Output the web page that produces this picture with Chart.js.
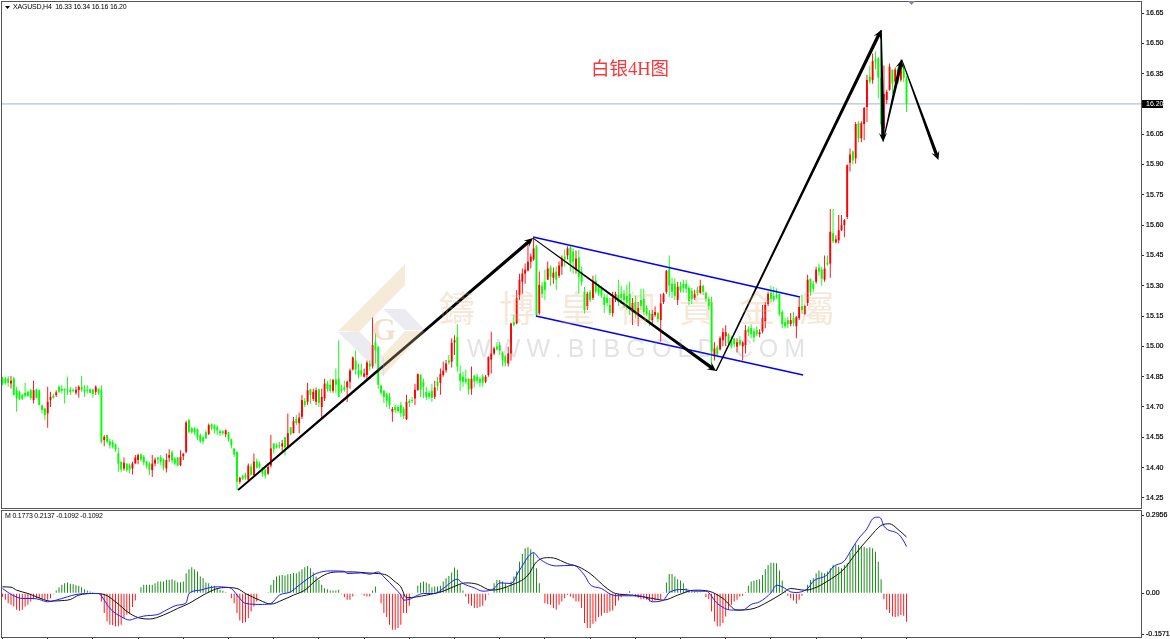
<!DOCTYPE html>
<html>
<head>
<meta charset="utf-8">
<title>XAGUSD H4</title>
<script src="https://cdn.jsdelivr.net/npm/chart.js@4"></script>
<style>
    html, body { margin: 0; padding: 0; background: #fff; overflow: hidden; }
    canvas { position: absolute; left: 0; display: block; }
    #priceChart { top: 0; }
    #macdChart { top: 509px; }
</style>
</head>
<body>
<canvas id="priceChart" width="1170" height="509"></canvas>
<canvas id="macdChart" width="1170" height="130"></canvas>
<script>
// H4 candles, one entry per bar
const opens = [
    14.841,14.84,14.84,14.816,14.841,14.783,14.775,14.76,14.77,14.775,
    14.783,14.734,14.787,14.783,14.709,14.693,14.668,14.734,14.755,14.759,
    14.80,14.79,14.79,14.787,14.785,14.785,14.77,14.783,14.80,14.787,
    14.785,14.787,14.787,14.775,14.79,14.783,14.536,14.561,14.53,14.525,
    14.515,14.47,14.429,14.396,14.42,14.412,14.396,14.42,14.437,14.465,
    14.455,14.43,14.42,14.387,14.42,14.45,14.45,14.44,14.396,14.448,
    14.475,14.445,14.45,14.412,14.457,14.478,14.635,14.595,14.595,14.59,
    14.56,14.55,14.575,14.566,14.615,14.61,14.60,14.58,14.58,14.565,
    14.575,14.54,14.495,14.478,14.33,14.36,14.365,14.34,14.405,14.363,
    14.43,14.42,14.40,14.39,14.37,14.41,14.52,14.51,14.51,14.505,
    14.55,14.50,14.60,14.57,14.64,14.62,14.652,14.73,14.726,14.787,
    14.74,14.726,14.787,14.70,14.742,14.816,14.81,14.78,14.836,14.84,
    14.79,14.80,14.797,14.825,14.886,14.93,14.88,14.88,14.85,14.858,
    14.915,14.902,15.02,14.998,14.805,14.78,14.765,14.75,14.677,14.70,
    14.70,14.71,14.69,14.64,14.73,14.735,14.742,14.784,14.86,14.825,
    14.775,14.77,14.78,14.75,14.825,14.82,14.858,14.882,14.93,14.924,
    15.02,15.047,14.865,14.85,14.84,14.84,14.79,14.855,14.85,14.84,
    14.85,14.825,14.858,14.935,14.965,15.00,15.005,14.97,14.95,14.915,
    14.965,15.12,15.114,15.254,15.32,15.36,15.375,15.419,15.43,15.497,
    15.164,15.30,15.32,15.33,15.39,15.34,15.37,15.35,15.395,15.445,
    15.45,15.49,15.47,15.38,15.44,15.37,15.27,15.20,15.27,15.24,
    15.325,15.30,15.29,15.245,15.24,15.205,15.165,15.24,15.255,15.26,
    15.26,15.25,15.26,15.17,15.22,15.155,15.23,15.235,15.19,15.165,
    15.13,15.155,15.165,15.13,15.22,15.27,15.385,15.31,15.31,15.23,
    15.30,15.31,15.31,15.29,15.275,15.24,15.28,15.265,15.30,15.265,
    15.235,15.22,14.95,14.995,14.985,15.03,15.05,15.06,15.02,15.04,
    14.998,15.03,15.0,15.007,15.085,15.09,15.075,15.08,15.06,15.075,
    15.125,15.21,15.265,15.25,15.255,15.26,15.17,15.12,15.13,15.11,
    15.14,15.10,15.14,15.20,15.16,15.215,15.335,15.31,15.32,15.39,
    15.38,15.33,15.415,15.41,15.56,15.515,15.525,15.575,15.60,15.64,
    15.909,15.965,15.93,16.105,16.03,16.10,16.185,16.335,16.318,16.42,
    16.425,16.33,16.08,16.22,16.27,16.37,16.31,16.375,16.32,16.39,16.33
];
const highs = [
    14.85,14.85,14.853,14.853,14.85,14.80,14.78,14.765,14.82,14.78,
    14.792,14.83,14.79,14.787,14.709,14.693,14.80,14.775,14.765,14.783,
    14.808,14.808,14.792,14.85,14.80,14.792,14.80,14.808,14.853,14.808,
    14.808,14.792,14.787,14.808,14.792,14.808,14.561,14.561,14.544,14.536,
    14.519,14.50,14.429,14.45,14.42,14.42,14.429,14.462,14.47,14.47,
    14.462,14.433,14.429,14.462,14.45,14.453,14.462,14.445,14.47,14.491,
    14.486,14.453,14.453,14.486,14.47,14.632,14.64,14.60,14.60,14.594,
    14.569,14.552,14.585,14.618,14.618,14.615,14.61,14.589,14.585,14.589,
    14.577,14.544,14.495,14.478,14.355,14.363,14.375,14.42,14.42,14.47,
    14.445,14.43,14.404,14.396,14.42,14.561,14.52,14.52,14.528,14.536,
    14.552,14.668,14.60,14.65,14.66,14.671,14.759,14.745,14.82,14.79,
    14.79,14.797,14.79,14.79,14.84,14.83,14.84,14.84,14.89,15.03,
    14.81,14.83,14.83,14.89,14.95,14.98,14.915,14.915,14.89,14.93,
    14.93,15.143,15.064,15.0,14.81,14.785,14.77,14.77,14.70,14.71,
    14.71,14.725,14.70,14.76,14.74,14.75,14.815,14.866,14.861,14.84,
    14.80,14.78,14.815,14.83,14.85,14.89,14.924,14.932,14.957,15.04,
    15.055,15.11,14.907,14.875,14.885,14.84,14.90,14.858,14.863,14.85,
    14.863,14.858,14.95,15.072,14.998,15.02,15.02,14.975,14.957,14.998,
    15.117,15.155,15.279,15.36,15.386,15.41,15.51,15.46,15.535,15.50,
    15.37,15.32,15.38,15.42,15.40,15.39,15.395,15.42,15.45,15.48,
    15.495,15.50,15.485,15.475,15.477,15.395,15.295,15.27,15.28,15.35,
    15.355,15.31,15.30,15.26,15.26,15.24,15.27,15.27,15.33,15.30,
    15.28,15.305,15.32,15.24,15.25,15.22,15.285,15.285,15.205,15.18,
    15.18,15.197,15.17,15.26,15.265,15.378,15.45,15.34,15.337,15.32,
    15.32,15.33,15.33,15.30,15.29,15.28,15.295,15.33,15.305,15.27,
    15.245,15.246,15.02,15.005,15.05,15.09,15.105,15.065,15.05,15.04,
    15.04,15.05,15.025,15.105,15.10,15.11,15.09,15.098,15.085,15.205,
    15.22,15.27,15.30,15.295,15.287,15.26,15.18,15.14,15.145,15.165,
    15.17,15.15,15.24,15.255,15.205,15.355,15.335,15.325,15.394,15.41,
    15.394,15.45,15.45,15.68,15.68,15.55,15.65,15.65,15.63,15.90,
    15.98,15.97,16.11,16.114,16.114,16.185,16.343,16.39,16.45,16.46,
    16.434,16.565,16.39,16.27,16.40,16.37,16.38,16.38,16.42,16.40,16.34
];
const lows = [
    14.808,14.81,14.80,14.792,14.759,14.676,14.734,14.734,14.75,14.75,
    14.734,14.717,14.742,14.709,14.668,14.635,14.597,14.70,14.742,14.75,
    14.767,14.767,14.717,14.759,14.759,14.775,14.76,14.746,14.775,14.75,
    14.767,14.767,14.746,14.759,14.759,14.519,14.506,14.519,14.495,14.495,
    14.478,14.379,14.379,14.384,14.379,14.371,14.366,14.42,14.417,14.429,
    14.412,14.396,14.363,14.354,14.407,14.417,14.412,14.387,14.376,14.429,
    14.42,14.412,14.407,14.407,14.437,14.47,14.569,14.569,14.561,14.536,
    14.52,14.516,14.54,14.561,14.585,14.569,14.561,14.556,14.561,14.552,
    14.528,14.495,14.453,14.288,14.32,14.338,14.34,14.335,14.36,14.36,
    14.395,14.395,14.355,14.345,14.363,14.40,14.47,14.495,14.495,14.478,
    14.46,14.495,14.56,14.57,14.61,14.57,14.64,14.70,14.71,14.716,
    14.73,14.71,14.70,14.643,14.73,14.775,14.77,14.77,14.77,14.75,
    14.77,14.775,14.725,14.79,14.88,14.86,14.84,14.85,14.846,14.83,
    14.88,14.89,14.915,14.79,14.76,14.72,14.70,14.69,14.627,14.67,
    14.67,14.65,14.64,14.635,14.70,14.72,14.71,14.78,14.75,14.745,
    14.735,14.74,14.725,14.74,14.78,14.76,14.85,14.87,14.91,14.895,
    14.957,14.875,14.78,14.80,14.815,14.76,14.76,14.797,14.815,14.80,
    14.80,14.817,14.85,14.866,14.957,14.98,14.957,14.90,14.90,14.90,
    14.93,15.10,15.11,15.23,15.26,15.31,15.37,15.386,15.424,15.147,
    15.155,15.24,15.23,15.33,15.30,15.31,15.28,15.34,15.355,15.395,
    15.43,15.37,15.36,15.36,15.26,15.30,15.163,15.18,15.22,15.23,
    15.26,15.25,15.24,15.165,15.20,15.155,15.147,15.22,15.20,15.21,
    15.19,15.18,15.155,15.106,15.14,15.10,15.18,15.155,15.15,15.10,
    15.11,15.147,15.12,15.023,15.21,15.26,15.246,15.24,15.23,15.205,
    15.265,15.265,15.265,15.205,15.21,15.23,15.25,15.26,15.255,15.22,
    15.18,14.885,14.93,14.95,14.98,15.0,15.0,15.0,14.99,14.995,
    14.97,15.0,14.93,14.965,15.05,15.04,15.02,15.05,15.045,15.065,
    15.09,15.20,15.22,15.22,15.235,15.15,15.09,15.09,15.09,15.10,
    15.10,15.04,15.13,15.16,15.155,15.2,15.25,15.27,15.31,15.35,
    15.30,15.32,15.40,15.34,15.51,15.51,15.51,15.57,15.54,15.63,
    15.865,15.90,15.905,16.01,16.01,16.02,16.11,16.30,16.30,16.37,
    16.227,16.09,16.06,16.20,16.265,16.25,16.30,16.30,16.31,16.31,16.16
];
const closes = [
    14.816,14.82,14.82,14.83,14.759,14.742,14.742,14.74,14.755,14.755,
    14.745,14.783,14.745,14.709,14.685,14.66,14.726,14.75,14.745,14.772,
    14.775,14.78,14.783,14.781,14.775,14.778,14.785,14.80,14.785,14.775,
    14.78,14.77,14.765,14.80,14.77,14.528,14.552,14.528,14.51,14.505,
    14.49,14.42,14.391,14.424,14.387,14.391,14.42,14.45,14.462,14.44,
    14.425,14.41,14.39,14.42,14.44,14.44,14.43,14.40,14.437,14.462,
    14.435,14.42,14.41,14.453,14.47,14.623,14.577,14.575,14.575,14.55,
    14.53,14.53,14.545,14.61,14.595,14.59,14.585,14.57,14.57,14.585,
    14.54,14.51,14.465,14.33,14.35,14.345,14.35,14.41,14.365,14.43,
    14.40,14.405,14.37,14.36,14.404,14.495,14.49,14.50,14.505,14.52,
    14.50,14.57,14.565,14.63,14.62,14.648,14.734,14.71,14.783,14.76,
    14.775,14.783,14.72,14.75,14.816,14.79,14.78,14.833,14.81,14.75,
    14.78,14.785,14.825,14.88,14.945,14.885,14.86,14.86,14.866,14.92,
    14.90,15.006,14.98,14.81,14.77,14.75,14.73,14.71,14.69,14.685,
    14.68,14.67,14.655,14.725,14.72,14.73,14.785,14.863,14.785,14.80,
    14.75,14.75,14.745,14.796,14.805,14.863,14.88,14.915,14.92,15.018,
    15.03,14.90,14.83,14.825,14.825,14.785,14.84,14.825,14.83,14.82,
    14.82,14.85,14.948,14.965,14.99,14.985,14.98,14.93,14.92,14.965,
    15.113,15.105,15.238,15.328,15.36,15.38,15.419,15.444,15.485,15.155,
    15.304,15.26,15.28,15.385,15.345,15.365,15.33,15.40,15.435,15.43,
    15.485,15.41,15.42,15.435,15.345,15.32,15.18,15.26,15.23,15.32,
    15.27,15.265,15.25,15.205,15.215,15.165,15.24,15.26,15.22,15.24,
    15.23,15.215,15.19,15.215,15.17,15.19,15.20,15.17,15.16,15.13,
    15.16,15.17,15.135,15.213,15.26,15.374,15.30,15.27,15.25,15.295,
    15.275,15.29,15.285,15.225,15.235,15.26,15.265,15.30,15.27,15.235,
    15.20,14.975,14.99,14.96,15.04,15.07,15.07,15.015,15.0,15.01,
    15.02,15.01,15.02,15.08,15.07,15.06,15.045,15.06,15.07,15.14,
    15.205,15.26,15.235,15.23,15.245,15.16,15.11,15.10,15.11,15.13,
    15.115,15.145,15.195,15.18,15.20,15.33,15.27,15.285,15.38,15.37,
    15.335,15.385,15.405,15.567,15.52,15.53,15.575,15.60,15.625,15.897,
    15.95,15.92,16.10,16.03,16.105,16.18,16.318,16.31,16.412,16.41,
    16.33,16.10,16.25,16.26,16.384,16.30,16.37,16.31,16.39,16.33,16.20
];

// histogram of the lower panel, one entry per bar
const histValues = [
    -.0139,-.0253,-.0379,-.0442,-.0505,-.0632,-.0669,-.0632,-.0505,-.0442,-.0316,-.0227,-.0202,-.0202,-.0227,-.0253,-.0253,-.0189,-.0038,
    .0101,.0227,.0316,.0379,.0404,.0354,.0341,.0303,.0278,.0227,.0152,.0101,.0063,.0038,.0013,0,
    -.0316,-.0758,-.1074,-.12,-.1225,-.1263,-.1263,-.12,-.0947,-.0821,-.0783,-.053,-.0278,0,
    .0227,.0316,.0316,.0316,.0316,.0379,.0442,.0442,.0442,.0505,.0505,.053,.048,.0417,.0417,.0442,.0758,.0909,.0985,.0909,.0821,.0632,.0568,.0404,.0379,.0278,.0278,.0189,.0126,.0088,.0038,0,
    -.0189,-.0379,-.0758,-.1036,-.1137,-.1111,-.0947,-.0695,-.0505,-.0316,-.0025,-.0025,0,
    .0038,.0316,.0505,.0632,.0669,.0695,.0669,.072,.0733,.0758,.0758,.0821,.0909,.0985,.1036,.0947,.0783,.0632,.0505,.0316,.0189,.0152,.0101,.0101,.0101,.0126,
    -.0038,-.0152,-.0253,-.0253,-.0126,0,.0013,-.0038,-.0101,-.0126,-.0126,.0101,.0253,0,-.0379,-.0758,-.0909,-.12,-.1389,-.1389,-.1326,
    -.12,-.0758,-.0758,-.048,-.0038,-.0025,
    .0278,.0404,.0442,.0404,.0354,.0227,.0253,.0253,.0278,.0442,.0568,.0657,.0783,.0973,.0884,.0379,.0101,
    -.0126,-.0404,-.048,-.0568,-.0568,-.053,-.048,-.0278,-.0051,0,
    .0379,.0505,.0505,.0442,.0379,.0227,.0442,.0632,.0821,.12,.149,.1705,.1743,.1667,.1516,.0947,.0379,
    -.0025,-.0379,-.0417,-.0442,-.0568,-.0632,-.0442,-.0316,-.0189,-.0063,-.0126,-.0189,-.0316,-.0316,-.0568,-.1137,-.1326,-.1326,-.1162,-.1074,-.0909,-.0859,-.0758,-.0758,-.0695,-.0657,-.048,-.0278,-.0152,-.0076,-.0038,.0076,
    -.0038,-.0126,-.0177,-.0227,-.0227,-.0253,-.0316,-.0316,-.0278,-.0253,-.0227,
    .0025,.0404,.0733,.0733,.0632,.053,.048,.0379,.0189,.0101,.0063,.0063,.0038,.0025,0,
    -.0152,-.0227,-.0695,-.1074,-.1263,-.1263,-.1137,-.0884,-.0632,-.0442,-.0316,-.0253,-.0126,-.0101,
    .0038,.0278,.0442,.048,.0505,.053,.0695,.0909,.1074,.1162,.1162,.1137,.0859,.048,.0101,
    -.0101,-.0189,-.0278,-.0404,-.0253,-.0101,
    .0025,.0316,.0505,.0568,.0758,.0859,.0783,.0758,.0821,.0947,.1074,.1036,.101,.0947,.1074,.1137,.1541,.1768,.1857,.1831,.1743,.1768,.1705,.1743,.1705,.1579,.12,.053,
    -.0227,-.0632,-.0758,-.0884,-.0909,-.0884,-.0834,-.0859,-.1092
];

// blue line of the lower panel: turning points only
const mainBars = [0,2,4,7,11,13,16,19,23,26,31,34,36,38,42,45,47,50,55,58,62,65,66,70,72,76,79,81,84,86,92,95,98,102,105,109,111,116,121,122,127,130,133,135,139,141,142,144,147,149,153,156,161,163,167,170,174,176,180,183,188,190,196,202,206,208,212,216,219,223,228,230,234,236,241,245,249,253,258,262,265,268,272,274,276,279,281,285,287,292,294,298,300,303,306,308,310,311,312,317,319,320];
const mainValues = [.0177,.0026,-.01,-.0201,-.0201,-.024,-.0328,-.0265,-.0138,-.005,-.0012,-.0012,-.0265,-.058,-.0896,-.1022,-.096,-.0871,-.0808,-.0643,-.0454,-.0366,-.0012,.0114,.0177,.0241,.0228,.0177,-.0201,-.0391,-.0429,-.0391,-.0075,.0051,.0304,.062,.0746,.0847,.0834,.0746,.0771,.0721,.0809,.062,.0177,-.0075,-.0265,-.024,-.0075,-.0012,-.0012,.0177,.0531,.0367,.0203,.0076,.0177,.0392,.0367,.0872,.1542,.1314,.1036,.1062,.0683,.0329,.0177,-.0075,-.01,-.01,-.0176,-.0328,-.0265,.0026,.014,.0076,.0076,-.0391,-.0643,-.0643,-.0429,-.0328,.0012,.0304,.0241,.0051,.0026,.0177,.0455,.0708,.0998,.1226,.1567,.2072,.2451,.283,.2893,.283,.2552,.2261,.1985,.1773];

// black signal line: turning points only
const signalBars = [0,3,5,9,12,17,20,24,27,32,36,40,45,49,52,57,62,66,71,76,79,83,86,91,95,99,103,107,111,115,119,124,129,133,136,139,141,143,150,156,161,164,168,173,180,186,189,193,195,200,204,208,214,217,223,230,234,239,245,250,255,260,266,271,276,279,284,287,292,298,302,307,311,314,317,320];
const signalValues = [.0241,.0228,.0114,-.0012,-.0138,-.0303,-.029,-.024,-.0075,-.0012,-.005,-.0328,-.077,-.096,-.0984,-.0833,-.058,-.0391,-.0075,.0177,.0215,.0177,-.0012,-.0265,-.0416,-.0265,-.0075,.0114,.0493,.0746,.0809,.0809,.0771,.0746,.0683,.043,.0241,-.0176,-.0075,.0076,.0304,.0392,.0342,.0114,.0304,.0683,.1188,.1352,.134,.1125,.0998,.0746,.0177,-.0012,-.0075,-.0201,-.0265,-.0075,.0114,.0076,-.0201,-.0643,-.058,-.0328,-.0012,.0177,.0114,.0177,.0455,.0935,.1504,.2135,.2577,.264,.2425,.2137];

// hand drawn annotations, as [start, end] bar and price pairs
const arrowBars = [[83.4,187.8],[187.8,252.6],[252.6,311],[311,311.7],[311.7,318.3],[318.3,331.3]];
const arrowPrices = [[14.289,15.536],[15.536,14.878],[14.878,16.566],[16.566,16.013],[16.013,16.42],[16.42,15.922]];
const channelBars = [[187.8,282.3],[188.8,283.4]];
const channelPrices = [[15.541,15.244],[15.15,14.858]];

const priceTicks = [14.25,14.40,14.55,14.70,14.85,15.00,15.15,15.30,15.45,15.60,15.75,15.90,16.05,16.20,16.35,16.50,16.65];
const macdTicks = [0.2956,0,-0.1571];
const timeTicks = [0,16,32,48,64,80,96,112,128,144,160,176,192,208,224,240,256,272,288,304,320];

const lastPrice = 16.20;
const priceHeader = 'XAGUSD,H4  16.33 16.34 16.16 16.20';
const macdHeader = 'M 0.1773 0.2137 -0.1092 -0.1092';
const chartTitle = '白银4H图';
const brandName = ['鑄','博','皇','御','貴','金','屬'];
const brandSite = 'WWW.BIBGOLD.COM';

const barMin = -0.18;
const barMax = 403;
const labelFont = '7px "Liberation Sans"';
const frameColor = '#555';
const upColor = '#ff0000';
const downColor = '#00ff00';

const barIndex = opens.map((_, i) => i);

// same right hand axis setup for both panels
function rightAxis(min, max, tickValues, format) {
    return {
        position: 'right',
        min,
        max,
        afterBuildTicks: scale => { scale.ticks = tickValues.map(value => ({ value })); },
        afterFit: scale => {
            scale.width = 29;
            scale.paddingTop = 0;
            scale.paddingBottom = 0;
        },
        border: { display: false },
        grid: { drawOnChartArea: false, tickLength: 3, color: '#333' },
        ticks: {
            autoSkip: false,
            maxRotation: 0,
            padding: 2,
            color: '#000',
            textStrokeColor: '#000',
            textStrokeWidth: 0.2,
            font: { family: 'Liberation Sans', size: 7 },
            callback: format
        }
    };
}

function floatingBars(from, to, colors, thickness, order) {
    return {
        type: 'bar',
        order,
        grouped: false,
        barThickness: thickness,
        inflateAmount: 0,
        borderWidth: 0,
        backgroundColor: colors,
        data: barIndex.map(i => ({ x: i, y: [from[i], to[i]] }))
    };
}

function straightLine(xs, ys, color, width, order) {
    return {
        type: 'line',
        order,
        borderColor: color,
        borderWidth: width,
        pointRadius: 0,
        tension: 0,
        data: xs.map((x, i) => ({ x, y: ys[i] }))
    };
}

function strokeFrame(chart) {
    const { ctx, chartArea: a } = chart;
    ctx.save();
    ctx.strokeStyle = frameColor;
    ctx.lineWidth = 1;
    ctx.strokeRect(Math.round(a.left) - 0.5, Math.round(a.top) - 0.5, Math.round(a.right - a.left) + 1, Math.round(a.bottom - a.top) + 1);
    ctx.restore();
}

// tapered shaft with a barbed head, thin at the start and heavy at the tip
function drawArrow(ctx, p0, p1, startW) {
    const angle = Math.atan2(p1.y - p0.y, p1.x - p0.x);
    const ux = Math.cos(angle), uy = Math.sin(angle);
    const nx = -uy, ny = ux;
    const headLen = 9, headHalf = 4.2, notch = 6.5;
    const endW = 1.7;
    const nearTip = { x: p1.x - ux * notch, y: p1.y - uy * notch };

    ctx.beginPath();
    ctx.moveTo(p0.x + nx * startW, p0.y + ny * startW);
    ctx.lineTo(nearTip.x + nx * endW, nearTip.y + ny * endW);
    ctx.lineTo(p1.x - ux * headLen + nx * headHalf, p1.y - uy * headLen + ny * headHalf);
    ctx.lineTo(p1.x, p1.y);
    ctx.lineTo(p1.x - ux * headLen - nx * headHalf, p1.y - uy * headLen - ny * headHalf);
    ctx.lineTo(nearTip.x - nx * endW, nearTip.y - ny * endW);
    ctx.lineTo(p0.x - nx * startW, p0.y - ny * startW);
    ctx.closePath();
    ctx.fill();
}

const arrowPlugin = {
    id: 'arrows',
    afterDatasetsDraw(chart) {
        const { ctx, scales } = chart;
        const startWidths = [0.9, 0.45, 0.7, 0.7, 0.45, 0.45];
        ctx.save();
        ctx.fillStyle = '#000';
        arrowBars.forEach((bars, i) => {
            const p0 = { x: scales.x.getPixelForValue(bars[0]), y: scales.y.getPixelForValue(arrowPrices[i][0]) };
            const p1 = { x: scales.x.getPixelForValue(bars[1]), y: scales.y.getPixelForValue(arrowPrices[i][1]) };
            drawArrow(ctx, p0, p1, startWidths[i]);
        });
        ctx.restore();
    }
};

function fillPolygon(ctx, points, color) {
    ctx.fillStyle = color;
    ctx.beginPath();
    points.forEach((p, i) => (i ? ctx.lineTo(p[0], p[1]) : ctx.moveTo(p[0], p[1])));
    ctx.closePath();
    ctx.fill();
}

// broker logo and name, laid over the candles
const brandPlugin = {
    id: 'brand',
    afterDatasetsDraw(chart) {
        const ctx = chart.ctx;
        const tan = 'rgba(226,190,130,0.30)';
        const grey = 'rgba(170,170,185,0.22)';
        ctx.save();
        fillPolygon(ctx, [[405,264],[405,285],[359,332],[338,331]], tan);
        fillPolygon(ctx, [[425,331],[405,331],[383,355],[383,376]], tan);
        fillPolygon(ctx, [[338,332],[360,332],[384,357],[384,377]], grey);
        fillPolygon(ctx, [[383,309],[405,309],[425,330],[405,330]], grey);

        ctx.textBaseline = 'middle';
        ctx.textAlign = 'center';
        ctx.fillStyle = 'rgba(215,170,110,0.36)';
        ctx.font = 'bold 31px "Liberation Serif"';
        ctx.fillText('G', 384, 332);

        ctx.fillStyle = 'rgba(222,170,115,0.27)';
        ctx.font = '36px "Noto Sans CJK TC"';
        brandName.forEach((ch, i) => ctx.fillText(ch, 457 + i * 60, 308));

        ctx.textAlign = 'left';
        ctx.fillStyle = 'rgba(140,140,140,0.24)';
        ctx.font = '25px "Liberation Sans"';
        ctx.letterSpacing = '6.1px';
        ctx.fillText(brandSite, 467, 350);
        ctx.restore();
    }
};

// header text, chart title, price flag and the shift marker along the top edge
const priceDecor = {
    id: 'priceDecor',
    afterDraw(chart) {
        const { ctx, scales } = chart;
        strokeFrame(chart);
        ctx.save();

        fillPolygon(ctx, [[5,6],[10,6],[7.5,9]], '#000');
        ctx.fillStyle = '#000';
        ctx.font = labelFont;
        ctx.letterSpacing = '-0.2px';
        ctx.textBaseline = 'middle';
        ctx.fillText(priceHeader, 13, 7.5);
        ctx.letterSpacing = '0px';

        ctx.fillStyle = '#f5383c';
        ctx.font = '18.5px "Liberation Serif", "Noto Sans CJK SC"';
        ctx.fillText(chartTitle, 591, 70);

        const y = scales.y.getPixelForValue(lastPrice);
        ctx.fillStyle = '#000';
        ctx.fillRect(1142, Math.round(y) - 4, 21, 8);
        ctx.fillStyle = '#fff';
        ctx.font = labelFont;
        ctx.fillText(lastPrice.toFixed(2), 1146, y);

        fillPolygon(ctx, [[908,1],[915,1],[911.5,5]], '#7d8b9c');
        ctx.restore();
    }
};

const macdDecor = {
    id: 'macdDecor',
    afterDraw(chart) {
        const ctx = chart.ctx;
        strokeFrame(chart);
        ctx.save();
        ctx.fillStyle = '#000';
        ctx.font = labelFont;
        ctx.letterSpacing = '-0.2px';
        ctx.textBaseline = 'middle';
        ctx.fillText(macdHeader, 5, 7);
        ctx.restore();
    }
};

const sharedOptions = {
    responsive: false,
    animation: false,
    devicePixelRatio: 1,
    plugins: { legend: { display: false }, tooltip: { enabled: false } },
    events: []
};

new Chart(document.getElementById('priceChart'), {
    data: {
        datasets: [
            straightLine([barMin, barMax], [lastPrice, lastPrice], '#a3b3c6', 1, 6),
            floatingBars(lows, highs, opens.map((o, i) => (closes[i] >= o ? upColor : downColor)), 0.9, 5),
            floatingBars(opens, closes, opens.map((o, i) => (closes[i] >= o ? upColor : downColor)), 1.9, 4),
            straightLine(channelBars[0], channelPrices[0], '#0000ff', 1.5, 3),
            straightLine(channelBars[1], channelPrices[1], '#0000ff', 1.5, 3)
        ]
    },
    options: {
        ...sharedOptions,
        layout: { padding: { left: 2, top: 2, right: 0, bottom: 1 } },
        scales: {
            x: { type: 'linear', display: false, min: barMin, max: barMax, offset: false },
            y: rightAxis(14.2, 16.7045, priceTicks, value => value.toFixed(2))
        }
    },
    plugins: [arrowPlugin, brandPlugin, priceDecor]
});

new Chart(document.getElementById('macdChart'), {
    data: {
        datasets: [
            {
                type: 'bar',
                order: 3,
                barThickness: 0.9,
                inflateAmount: 0,
                borderWidth: 0,
                backgroundColor: histValues.map(v => (v >= 0 ? '#008000' : '#ff0000')),
                data: barIndex.map(i => ({ x: i, y: histValues[i] }))
            },
            { ...straightLine(signalBars, signalValues, '#111', 1, 2), cubicInterpolationMode: 'monotone' },
            { ...straightLine(mainBars, mainValues, '#1c1cff', 1, 1), cubicInterpolationMode: 'monotone' }
        ]
    },
    options: {
        ...sharedOptions,
        layout: { padding: { left: 2, top: 1.5, right: 0, bottom: 0 } },
        scales: {
            x: {
                type: 'linear',
                min: barMin,
                max: barMax,
                offset: false,
                afterBuildTicks: scale => { scale.ticks = timeTicks.map(value => ({ value })); },
                afterFit: scale => { scale.height = 2.5; },
                border: { display: false },
                grid: { drawOnChartArea: false, offset: false, tickLength: 3, color: '#333' },
                ticks: { display: false }
            },
            y: rightAxis(-0.1649, 0.3146, macdTicks, value => (value === 0 ? '0.00' : value.toFixed(4)))
        }
    },
    plugins: [macdDecor]
});
</script>
</body>
</html>
